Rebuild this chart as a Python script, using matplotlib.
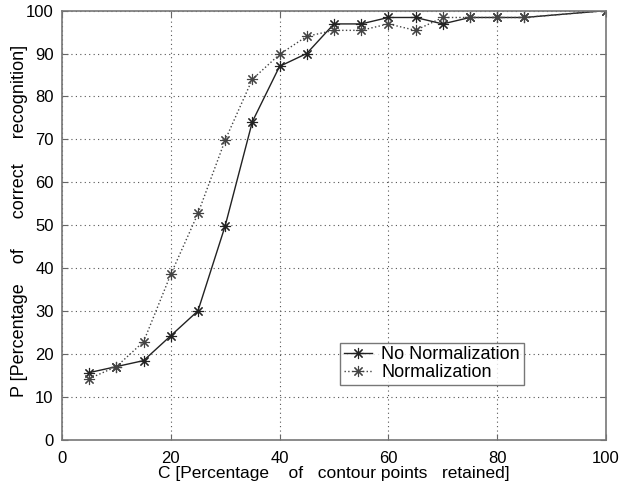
import matplotlib.pyplot as plt

plt.rcParams['font.family'] = ['Liberation Sans', 'DejaVu Sans']

# Percentage of contour points retained
c_values = [5, 10, 15, 20, 25, 30, 35, 40, 45, 50, 55, 60, 65, 70, 75, 80, 85, 100]
# Recognition rates
no_norm = [15.6, 17.0, 18.4, 24.2, 30.0, 49.8, 74.1, 87.0, 90.0, 96.9, 96.9,
           98.4, 98.4, 96.9, 98.4, 98.4, 98.4, 100.0]
norm = [14.2, 17.0, 22.8, 38.5, 52.7, 69.8, 84.0, 89.8, 94.0, 95.4, 95.4,
        96.9, 95.4, 98.4, 98.4, 98.4, 98.4, 100.0]

x_ticks = [0, 20, 40, 60, 80, 100]
y_ticks = list(range(0, 101, 10))

# MATLAB-style asterisk: 8 arms
star = (8, 2, 0)

fig = plt.figure(figsize=(6.23, 4.83), dpi=100)
ax = fig.add_axes([0.0995, 0.090, 0.873, 0.888])

ax.plot(c_values, no_norm, color='#222222', linestyle='-', linewidth=1.0,
        marker=star, markersize=8, markeredgewidth=0.8, label='No Normalization')
ax.plot(c_values, norm, color='#444444', linestyle=':', linewidth=1.0,
        marker=star, markersize=8, markeredgewidth=0.8, label='Normalization')

ax.set_xlim(0, 100)
ax.set_ylim(0, 100)
ax.set_xticks(x_ticks)
ax.set_yticks(y_ticks)
ax.tick_params(direction='in', top=True, right=True, labelsize=12, length=4,
               color='#666666')
ax.tick_params(axis='x', pad=8)
ax.tick_params(axis='y', pad=6)
ax.grid(True, linestyle=(0, (1, 3)), color='#555555', linewidth=0.8)

for spine in ax.spines.values():
    spine.set_color('#777777')
    spine.set_linewidth(1.2)

ax.set_xlabel('C [Percentage    of   contour points   retained]', fontsize=12.5, labelpad=0)
ax.set_ylabel('P [Percentage    of      correct     recognition]', fontsize=13)
ax.yaxis.set_label_coords(-0.0625, 0.509)

leg = ax.legend(loc='lower left', bbox_to_anchor=(0.511, 0.128), fontsize=13,
                frameon=True, fancybox=False, borderpad=0.2, labelspacing=0.05,
                handlelength=1.6, handletextpad=0.5, borderaxespad=0)
leg.get_frame().set_edgecolor('#555555')
leg.get_frame().set_linewidth(1.0)

fig.savefig('out.png', dpi=100)
